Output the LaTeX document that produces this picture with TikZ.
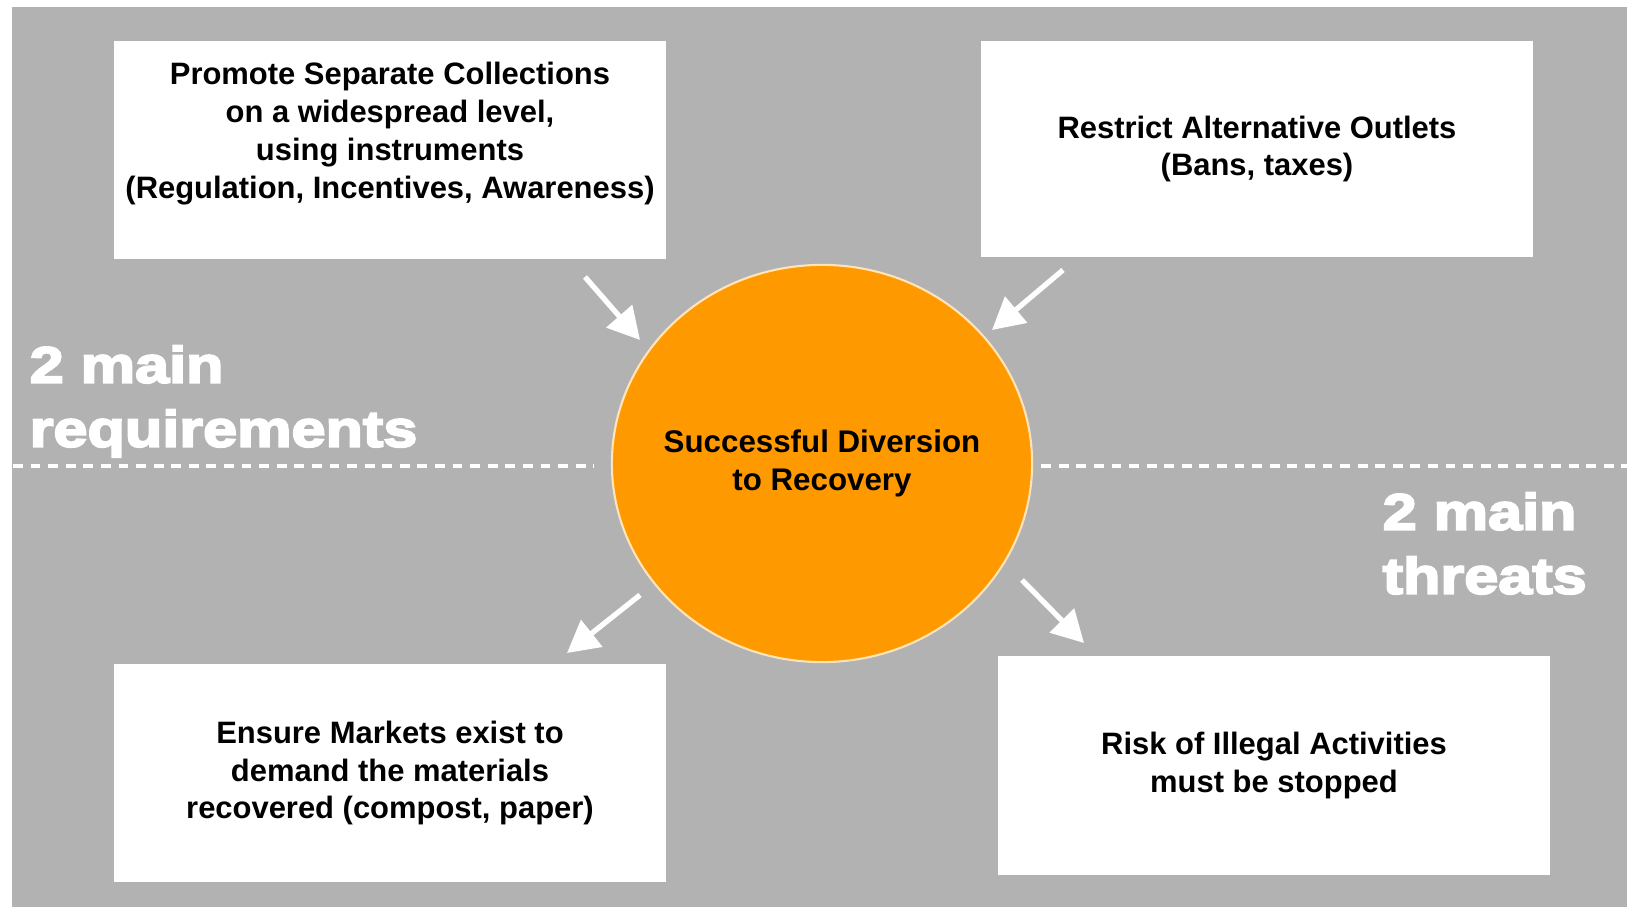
\documentclass[tikz,border=0pt]{standalone}
\usepackage{fontspec}
\setmainfont{Liberation Sans}
\newfontfamily\heavyfont[FakeStretch=1.2,FakeBold=4]{Liberation Sans}
\usepackage{tikz}
\usetikzlibrary{shapes,arrows,arrows.meta,calc,positioning}
\definecolor{slidegray}{RGB}{178,178,178}
\definecolor{huborange}{RGB}{255,153,0}
\definecolor{hubrim}{RGB}{255,228,185}

\begin{document}
\begin{tikzpicture}[x=0.01cm,y=-0.01cm,
	card/.style={fill=white,minimum width=5.51cm,minimum height=2.18cm,inner sep=0pt,align=center,font=\fontsize{8.8}{10.8}\selectfont\bfseries},
	cardtext/.style={inner sep=0pt,align=center,font=\fontsize{8.8}{10.8}\selectfont\bfseries},
	hub/.style={ellipse,fill=huborange,draw=hubrim,line width=0.6pt,minimum width=4.2cm,minimum height=3.97cm,inner sep=0pt},
	flow/.style={white,line width=1.5pt,-{Triangle[length=9pt,width=9.5pt]}},
	divider/.style={white,line width=0.9pt,dash pattern=on 2.8pt off 2.2pt},
	headline/.style={white,inner sep=0pt,anchor=north west,align=left,font=\heavyfont\fontsize{14.5}{18.2}\selectfont\bfseries}]
	\useasboundingbox (0,0) rectangle (1627,907);
	\fill[white] (0,0) rectangle (1627,907);
	\fill[slidegray] (12,7) rectangle (1627,907);

	% the four boxes and the hub
	\node [card] (tl) at (390,150) {};
	\node [cardtext] (tltext) at (390,134) {Promote Separate Collections\\on a widespread level,\\using instruments\\(Regulation, Incentives, Awareness)};
	\node [card,minimum height=2.16cm] (tr) at (1257,149) {Restrict Alternative Outlets\\(Bans, taxes)};
	\node [card] (bl) at (390,773) {Ensure Markets exist to\\demand the materials\\recovered (compost, paper)};
	\node [card,minimum height=2.19cm] (br) at (1274,765.5) {Risk of Illegal Activities\\must be stopped};
	\node [hub] (hub) at (822,463.5) {};
	\node [cardtext,font=\fontsize{8.9}{10.6}\selectfont\bfseries] (hubtext) at (hub) {Successful Diversion\\to Recovery};

	% divider and side labels
	\coordinate (lend) at (13,466);
	\coordinate (rend) at (1627,466);
	\draw[divider] (lend) -- ($(lend -| hub.west)+(-17,0)$);
	\draw[divider] ($(rend -| hub.east)+(8,0)$) -- (rend);
	\node [headline] (needs) at (29,345) {2 main\\requirements};
	\node [headline] (threats) at (1382,492) {2 main\\threats};

	% arrows
	\coordinate (tlfrom) at (585,277);  \coordinate (tlto) at (640,340);
	\coordinate (trfrom) at (1063,270); \coordinate (trto) at (992,330);
	\coordinate (blfrom) at (640,595);  \coordinate (blto) at (567,653);
	\coordinate (brfrom) at (1022,580); \coordinate (brto) at (1084,643);
	\draw[flow] (tlfrom) -- (tlto);
	\draw[flow] (trfrom) -- (trto);
	\draw[flow] (blfrom) -- (blto);
	\draw[flow] (brfrom) -- (brto);
\end{tikzpicture}
\end{document}
